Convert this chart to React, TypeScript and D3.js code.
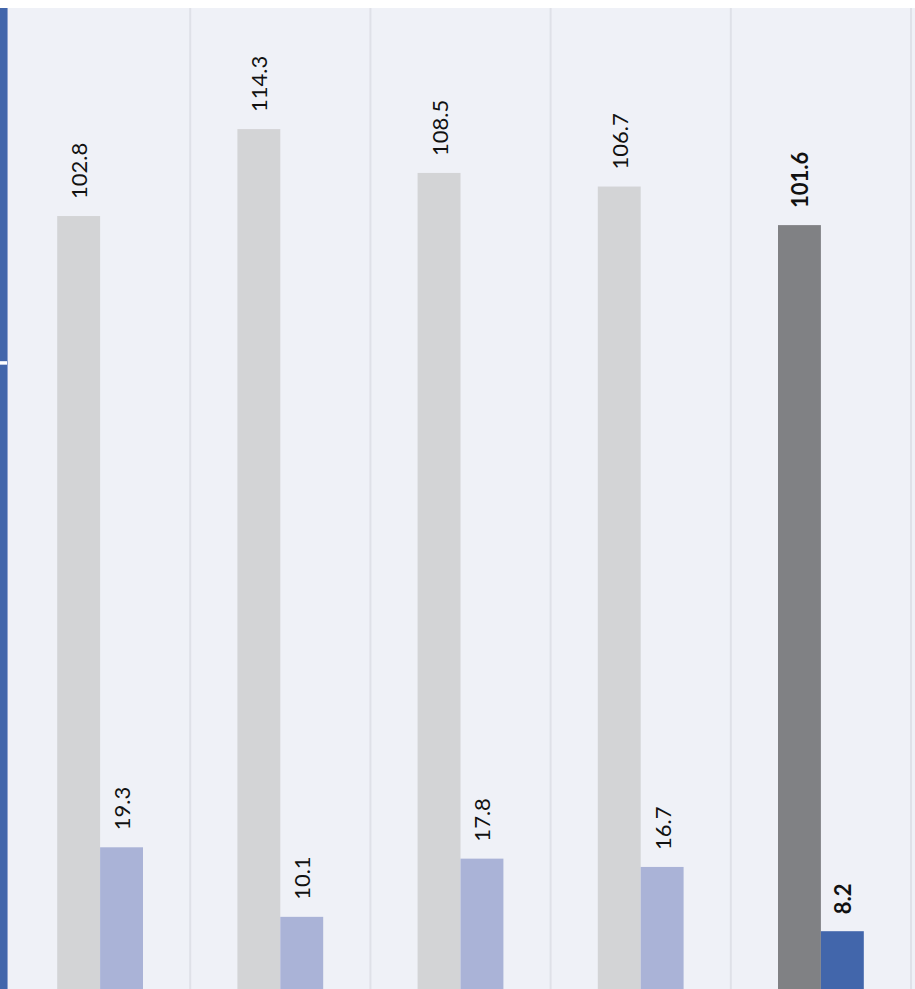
import React from "react";
import * as d3 from "d3";

const WIDTH = 915;
const HEIGHT = 989;

const categories = ["G1", "G2", "G3", "G4", "G5"];
const seriesKeys = ["total", "part"];
const totalValues = [102.8, 114.3, 108.5, 106.7, 101.6];
const partValues = [19.3, 10.1, 17.8, 16.7, 8.2];
const highlighted = "G5";
const stripeSegments = [0, 83, 130];

const colors = {
  bg: "#eff1f7",
  grid: "#dfe1e8",
  total: "#d3d4d6",
  part: "#aab3d7",
  totalHi: "#808184",
  partHi: "#4266ab",
  stripe: "#4266ab",
};

const App = () => {
  const top = 8;
  const x = d3.scaleBand<string>().domain(categories).range([10, 911]).padding(0);
  const x1 = d3
    .scaleBand<string>()
    .domain(seriesKeys)
    .range([0, x.bandwidth()])
    .paddingInner(0)
    .paddingOuter(1.1);
  const y = d3.scaleLinear().domain([0, 130]).range([993.2, 10.4]);
  const stripeY = d3.scaleLinear().domain([0, 130]).range([HEIGHT, top]);

  const rows = categories.map((c, i) => ({
    cat: c,
    total: totalValues[i],
    part: partValues[i],
  }));

  return (
    <svg
      width={WIDTH}
      height={HEIGHT}
      style={{ position: "absolute", left: 0, top: 0, display: "block" }}
    >
      <rect x={0} y={0} width={WIDTH} height={HEIGHT} fill="#fff" />
      <rect x={7} y={top} width={WIDTH - 7} height={HEIGHT - top} fill={colors.bg} />

      {/* band separators */}
      {categories.map((c) => (
        <line
          key={c}
          x1={(x(c) ?? 0) + x.step()}
          x2={(x(c) ?? 0) + x.step()}
          y1={top}
          y2={HEIGHT}
          stroke={colors.grid}
          strokeWidth={2}
        />
      ))}

      {/* left stripe, cut from a neighbouring panel */}
      {stripeSegments.slice(0, -1).map((v, i) => {
        const y0 = stripeY(stripeSegments[i + 1]);
        const y1 = stripeY(v);
        const gapTop = i === 0 ? 2 : 0;
        return (
          <rect
            key={i}
            x={0}
            y={y0 + gapTop}
            width={7}
            height={y1 - y0 - gapTop - (i === 0 ? 0 : 1.5)}
            fill={colors.stripe}
          />
        );
      })}
      <line x1={7.5} x2={7.5} y1={top} y2={HEIGHT} stroke="#8fa3cf" strokeWidth={1} />

      {rows.map((d) => {
        const hi = d.cat === highlighted;
        const gx = x(d.cat) ?? 0;
        return (
          <g key={d.cat} transform={`translate(${gx},0)`}>
            {seriesKeys.map((k) => {
              const v = (d as any)[k] as number;
              const bx = x1(k) ?? 0;
              const fill =
                k === "total"
                  ? hi ? colors.totalHi : colors.total
                  : hi ? colors.partHi : colors.part;
              const cx = bx + x1.bandwidth() / 2;
              const ly = y(v) - 17;
              return (
                <g key={k}>
                  <rect
                    x={bx}
                    y={y(v)}
                    width={x1.bandwidth()}
                    height={HEIGHT - y(v) + 10}
                    fill={fill}
                  />
                  <text
                    transform={`translate(${cx},${ly}) rotate(-90)`}
                    textAnchor="start"
                    dominantBaseline="central"
                    fontFamily="Lato, 'DejaVu Sans', sans-serif"
                    fontSize={22}
                    fontWeight={hi ? 700 : 400}
                    fill="#111"
                  >
                    {d3.format(".1f")(v)}
                  </text>
                </g>
              );
            })}
          </g>
        );
      })}
    </svg>
  );
};

export default App;
